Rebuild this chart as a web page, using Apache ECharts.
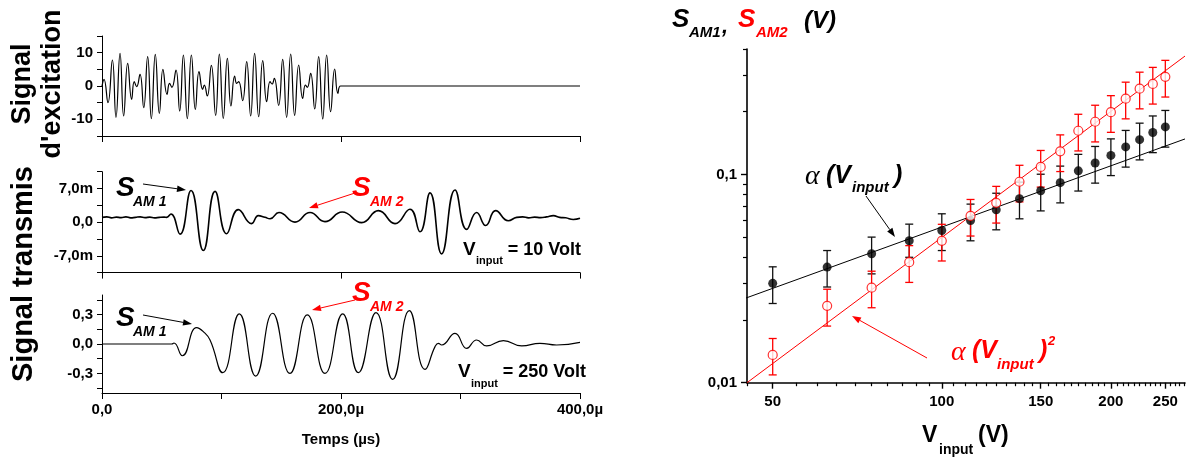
<!DOCTYPE html>
<html><head><meta charset="utf-8">
<script src="https://cdn.jsdelivr.net/npm/echarts@6/dist/echarts.min.js"></script>
<style>html,body{margin:0;padding:0;background:#fff}#c{width:1186px;height:461px}</style>
</head><body><div id="c"></div><script>
// ---------- data ----------
// excitation signal: [time µs, amplitude]
const excitation = [[0,0],[1.7,2],[5.0,-5],[8.7,7.8],[11.7,-9.4],[15.1,9.8],[18.1,-9],[21.5,6.8],[24.8,-4],[27.0,1.3],[29.0,-0.2],[31.8,3.5],[34.9,-6.5],[38.2,8.8],[41.3,-9.8],[44.6,9.5],[48.0,-8.2],[51.0,5],[54.4,-2.5],[56.5,0.8],[58.5,-0.4],[61.9,4.8],[65.0,-7.5],[68.1,9.3],[71.4,-9.8],[74.8,9.3],[78.1,-7],[81.2,4.3],[84.2,-1.0],[85.6,0.3],[88.1,-3],[91.5,6.2],[95.1,-8.8],[98.2,9.6],[101.5,-9.7],[104.9,8.3],[107.9,-6],[111.0,3],[112.7,0.8],[114.4,1.3],[117.7,-4.4],[121.1,7.3],[124.4,-9],[127.7,9.8],[131.1,-9.2],[134.5,7.6],[137.8,-4.7],[140.6,1.3],[142.3,0.6],[144.2,2.3],[147.8,-5.8],[151.2,8],[154.5,-9.4],[157.9,9.6],[161.2,-8.8],[164.6,6.3],[167.9,-3.7],[170.2,0.3],[171.8,-0.4],[174.6,3.8],[178.0,-6.9],[181.3,8.8],[184.7,-9.9],[188.0,9.3],[191.3,-7.7],[194.7,5.1],[197.4,-2.2],[199.7,0],[400,0]];
// transmitted signal at 10 V: [time µs, mV]
const signal10 = [[0,1.0],[4,1.1],[8,0.9],[12,1.05],[16,0.95],[20,1.1],[24,0.9],[28,1.0],[32,1.1],[36,0.95],[40,1.05],[44,0.9],[48,1.0],[52,1.05],[54.1,1.0],[57.7,1.7],[65.3,-2.5],[74.5,6.6],[84.8,-5.9],[94.6,6.4],[104.3,-2.4],[114.1,2.6],[125.2,-0.3],[130.8,1.35],[136.4,1.0],[140.6,0.7],[148.1,2.0],[161.5,0.0],[174.1,2.0],[186.6,0.1],[201,2.1],[217.3,-0.1],[231.3,2.4],[245.2,-0.3],[257.7,2.7],[266.1,-2.0],[274.5,6.1],[284.2,-6.6],[295.4,6.7],[305.2,-1.5],[313.5,2.0],[321.1,-0.7],[329.4,2.4],[340.0,0.3],[347,1.0],[352,1.1],[357,0.9],[362,1.05],[367,0.95],[372,1.1],[377.7,1.35],[383,1.0],[388,0.9],[394.4,0.55],[400,0.8]];
// transmitted signal at 250 V: [time µs, V]
const signal250 = [[0,0],[58.3,0],[60.2,0.01],[67.2,-0.12],[79.2,0.167],[84.8,0.126],[90.4,0.041],[101.0,-0.293],[114.9,0.307],[128.6,-0.327],[142.8,0.314],[157.3,-0.30],[171.8,0.297],[186.6,-0.30],[201.4,0.307],[214.5,-0.293],[229.3,0.32],[243.2,-0.361],[257.2,0.341],[270.3,-0.259],[278.7,-0.027],[281.5,0.007],[284.2,-0.01],[295.4,0.109],[305.2,-0.044],[313.5,0.041],[321.9,-0.02],[335.9,0.034],[351.2,-0.02],[366.5,0.007],[380.4,-0.01],[400,0.017]];

// log-log plot
const vInput   = [50,62.5,75,87.5,100,112.5,125,137.5,150,162.5,175,187.5,200,212.5,225,237.5,250];
const sAM1     = [0.030,0.0359,0.0416,0.048,0.0538,0.060,0.0677,0.0765,0.0835,0.0913,0.104,0.1135,0.1234,0.1355,0.1468,0.159,0.169];
const sAM1Low  = [0.024,0.0288,0.0333,0.040,0.0431,0.048,0.0542,0.0612,0.0668,0.0730,0.0832,0.0908,0.0987,0.1084,0.1174,0.1272,0.1352];
const sAM1High = [0.036,0.0431,0.050,0.0577,0.0647,0.072,0.0812,0.0918,0.1002,0.1096,0.1248,0.1362,0.1481,0.1626,0.1762,0.1908,0.2028];
const sAM2     = [0.0136,0.0234,0.0286,0.0379,0.048,0.0632,0.0730,0.0922,0.1086,0.129,0.162,0.179,0.199,0.231,0.258,0.272,0.294];
const sAM2Low  = [0.0109,0.0187,0.0229,0.0303,0.0384,0.0506,0.0584,0.0738,0.0869,0.1032,0.1296,0.1432,0.1592,0.1848,0.2064,0.2176,0.2352];
const sAM2High = [0.0163,0.0281,0.0343,0.0455,0.0576,0.0758,0.0876,0.1106,0.1303,0.1548,0.1944,0.2148,0.2388,0.2772,0.3096,0.3264,0.3528];
const fitAM1   = [[41.4,0.0236],[271,0.148]];
const fitAM2   = [[45,0.01],[271,0.37]];

// tick values / labels
const timeTicksTop   = [0,200,400];
const timeTicksBot   = [0,100,200,300,400];
const timeLabelVals  = [0,200,400];
const timeLabels     = ['0,0','200,0µ','400,0µ'];
const excTicks = [-15,-10,-5,0,5,10,15];
const excLabelVals = [-10,0,10];
const excLabels = ['-10','0','10'];
const s10Ticks = [-10.5,-7,-3.5,0,3.5,7,10.5];
const s10LabelVals = [-7,0,7];
const s10Labels = ['-7,0m','0,0','7,0m'];
const s250Ticks = [-0.45,-0.3,-0.15,0,0.15,0.3,0.45];
const s250LabelVals = [-0.3,0,0.3];
const s250Labels = ['-0,3','0,0','0,3'];
const vMajor = [50,100,150,200,250];
const vMinor = [45,55,60,65,70,75,80,85,90,95,105,110,115,120,125,130,135,140,145,155,160,165,170,175,180,185,190,195,205,210,215,220,225,230,235,240,245,255,260,265,270];
const sMajor = [0.01,0.1];
const sMajorLabels = ['0,01','0,1'];
const sMinor = [0.02,0.03,0.04,0.05,0.06,0.07,0.08,0.09,0.2,0.3,0.4];

// ---------- chart ----------
const FONT = '"Liberation Sans", Arial, sans-serif';
const lab = (vals, txts) => v => { for (let i=0;i<vals.length;i++) if (Math.abs(vals[i]-v) < 1e-6*Math.max(1,Math.abs(v))) return txts[i]; return ''; };
const labStyle = {color:'#000', fontFamily:FONT, fontWeight:'bold', fontSize:15};

function leftX(g, ticks, showLabels){
  return {gridIndex:g, type:'value', min:0, max:400,
    axisLine:{show:true, onZero:false, lineStyle:{color:'#000', width:1}},
    axisTick:{show:true, inside:false, length:6, customValues:ticks, lineStyle:{color:'#000'}},
    axisLabel:Object.assign({show:showLabels, margin:9, customValues:timeLabelVals, formatter:lab(timeLabelVals,timeLabels)}, labStyle),
    splitLine:{show:false}};
}
function leftY(g, min, max, ticks, lvals, ltxt){
  return {gridIndex:g, type:'value', min, max,
    axisLine:{show:true, onZero:false, lineStyle:{color:'#000', width:1}},
    axisTick:{show:true, inside:false, length:5, customValues:ticks, lineStyle:{color:'#000'}},
    axisLabel:Object.assign({margin:9, customValues:lvals, formatter:lab(lvals,ltxt)}, labStyle),
    splitLine:{show:false}};
}

function txt(text, x, y, font, color, align, rot, lh){
  return {type:'text', x, y, rotation:rot||0, silent:true, z:100,
    style:{text, font, fill:color, textAlign:align||'left', textVerticalAlign:'middle', lineHeight:lh||30}};
}
function arrow(x1,y1,x2,y2,color){
  const a = Math.atan2(y2-y1, x2-x1), L=9, W=3.2;
  const c = Math.cos(a), s = Math.sin(a);
  const bx = x2-L*c, by = y2-L*s;
  return [
    {type:'line', silent:true, z:100, shape:{x1,y1,x2:bx,y2:by}, style:{stroke:color, lineWidth:1}},
    {type:'polygon', silent:true, z:100, shape:{points:[[x2,y2],[bx-W*s,by+W*c],[bx+W*s,by-W*c]]}, style:{fill:color}}
  ];
}
function errRender(color){
  return function(params, api){
    const x = api.value(0), lo = api.value(1), hi = api.value(2);
    const t = api.coord([x, hi]), b = api.coord([x, lo]);
    const w = 4, st = {stroke:color, lineWidth:1.3};
    return {type:'group', children:[
      {type:'line', shape:{x1:t[0],y1:t[1],x2:b[0],y2:b[1]}, style:st},
      {type:'line', shape:{x1:t[0]-w,y1:t[1],x2:t[0]+w,y2:t[1]}, style:st},
      {type:'line', shape:{x1:b[0]-w,y1:b[1],x2:b[0]+w,y2:b[1]}, style:st}
    ]};
  };
}

const RED = '#ff0000';
const BI = s => 'italic bold '+s+'px '+FONT;
const B = s => 'bold '+s+'px '+FONT;
const graphics = [].concat(
  [txt("Signal\nd'excitation", 38, 84, B(27), '#000', 'center', Math.PI/2, 30),
   txt('Signal transmis', 24, 274, B(29), '#000', 'center', Math.PI/2),
   txt('Temps (µs)', 341, 440, B(15), '#000', 'center'),
   // panel 2
   txt('S', 116, 188, BI(28), '#000'), txt('AM 1', 133, 202, BI(14), '#000'),
   txt('S', 352, 188, BI(28), RED), txt('AM 2', 370, 202, BI(14), RED),
   txt('V', 463, 250, B(19), '#000'), txt('input', 476, 261, B(11), '#000'), txt('= 10 Volt', 581, 250, B(18), '#000', 'right'),
   // panel 3
   txt('S', 116, 318, BI(28), '#000'), txt('AM 1', 133, 332, BI(14), '#000'),
   txt('S', 352, 293, BI(28), RED), txt('AM 2', 370, 307, BI(14), RED),
   txt('V', 458, 372, B(19), '#000'), txt('input', 471, 384, B(11), '#000'), txt('= 250 Volt', 586, 372, B(18), '#000', 'right'),
   // right plot title
   txt('S', 672, 20, BI(26), '#000'), txt('AM1', 689, 33, BI(15), '#000'), txt(',', 722, 27, BI(22), '#000'),
   txt('S', 738, 20, BI(26), RED), txt('AM2', 756, 33, BI(15), RED), txt('(V)', 804, 21, BI(24), '#000'),
   // alpha(V_input)
   txt('α', 805, 177, 'italic 28px "Liberation Serif", serif', '#000'), txt('(V', 826, 176, BI(25), '#000'),
   txt('input', 852, 188, BI(15), '#000'), txt(')', 894, 176, BI(25), '#000'),
   // alpha(V_input)^2
   txt('α', 951, 353, 'italic 28px "Liberation Serif", serif', RED), txt('(V', 972, 351, BI(25), RED),
   txt('input', 997, 365, BI(15), RED), txt(')', 1039, 351, BI(25), RED), txt('2', 1048, 341, BI(13), RED),
   // x title right
   txt('V', 922, 436, B(23), '#000'), txt('input', 939, 450, B(14), '#000'), txt('(V)', 978, 436, B(23), '#000')
  ],
  arrow(143,184,186,190,'#000'), arrow(355,193,309,208,RED),
  arrow(143,315,192,324,'#000'), arrow(355,300,312,310,RED),
  arrow(866,196,895,237,'#000'), arrow(927,358,852,316,RED)
);

const errAM1 = vInput.map((v,i)=>[v, sAM1Low[i], sAM1High[i]]);
const errAM2 = vInput.map((v,i)=>[v, sAM2Low[i], sAM2High[i]]);

const option = {
  animation:false,
  backgroundColor:'#fff',
  grid:[
    {left:102, top:36, width:478, height:100},
    {left:102, top:171.7, width:478, height:100.9},
    {left:102, top:295, width:478, height:98},
    {left:747, top:49, width:438, height:333.7},
    {left:747, top:49, width:438, height:333.7}
  ],
  xAxis:[
    leftX(0, timeTicksTop, false),
    leftX(1, timeTicksTop, false),
    leftX(2, timeTicksBot, true),
    {gridIndex:3, type:'log', logBase:10, min:45, max:271,
      axisLine:{show:true, onZero:false, lineStyle:{color:'#000', width:1.6}},
      axisTick:{show:true, length:6, customValues:vMajor, lineStyle:{color:'#000', width:1.4}},
      axisLabel:Object.assign({margin:12, customValues:vMajor, formatter:v=>String(Math.round(v))}, labStyle),
      splitLine:{show:false}},
    {gridIndex:4, type:'log', logBase:10, min:45, max:271,
      axisLine:{show:false},
      axisTick:{show:true, length:3.5, customValues:vMinor, lineStyle:{color:'#000', width:1.2}},
      axisLabel:{show:false}, splitLine:{show:false}}
  ],
  yAxis:[
    leftY(0, -15, 15, excTicks, excLabelVals, excLabels),
    leftY(1, -10.5, 10.5, s10Ticks, s10LabelVals, s10Labels),
    leftY(2, -0.5, 0.5, s250Ticks, s250LabelVals, s250Labels),
    {gridIndex:3, type:'log', logBase:10, min:0.01, max:0.4,
      axisLine:{show:true, onZero:false, lineStyle:{color:'#000', width:1.6}},
      axisTick:{show:true, length:6, customValues:sMajor, lineStyle:{color:'#000', width:1.4}},
      axisLabel:Object.assign({margin:10, customValues:sMajor, formatter:lab(sMajor, sMajorLabels)}, labStyle),
      splitLine:{show:false}},
    {gridIndex:4, type:'log', logBase:10, min:0.01, max:0.4,
      axisLine:{show:false},
      axisTick:{show:true, length:4, customValues:sMinor, lineStyle:{color:'#000', width:1.2}},
      axisLabel:{show:false}, splitLine:{show:false}}
  ],
  series:[
    {type:'line', xAxisIndex:0, yAxisIndex:0, data:excitation, smooth:0.5, showSymbol:false, symbol:'none', lineStyle:{color:'#000', width:1.2}},
    {type:'line', xAxisIndex:1, yAxisIndex:1, data:signal10, smooth:0.5, showSymbol:false, symbol:'none', lineStyle:{color:'#000', width:1.6}},
    {type:'line', xAxisIndex:2, yAxisIndex:2, data:signal250, smooth:0.5, showSymbol:false, symbol:'none', lineStyle:{color:'#000', width:1.2}},
    {type:'line', xAxisIndex:3, yAxisIndex:3, data:fitAM1, clip:false, symbol:'none', lineStyle:{color:'#000', width:1}},
    {type:'line', xAxisIndex:3, yAxisIndex:3, data:fitAM2, clip:false, symbol:'none', lineStyle:{color:RED, width:1}},
    {type:'custom', xAxisIndex:3, yAxisIndex:3, data:errAM1, encode:{x:0, y:[1,2]}, renderItem:errRender('#111'), clip:false, z:3},
    {type:'custom', xAxisIndex:3, yAxisIndex:3, data:errAM2, encode:{x:0, y:[1,2]}, renderItem:errRender(RED), clip:false, z:4},
    {type:'scatter', xAxisIndex:3, yAxisIndex:3, data:vInput.map((v,i)=>[v,sAM1[i]]), symbol:'circle', symbolSize:9, itemStyle:{color:'#000'}, z:5},
    {type:'scatter', xAxisIndex:3, yAxisIndex:3, data:vInput.map((v,i)=>[v,sAM2[i]]), symbol:'circle', symbolSize:9, itemStyle:{color:'#fff', borderColor:RED, borderWidth:1.2}, z:6}
  ],
  graphic:graphics
};
const chart = echarts.init(document.getElementById('c'), null, {renderer:'canvas'});
chart.setOption(option);
</script></body></html>
